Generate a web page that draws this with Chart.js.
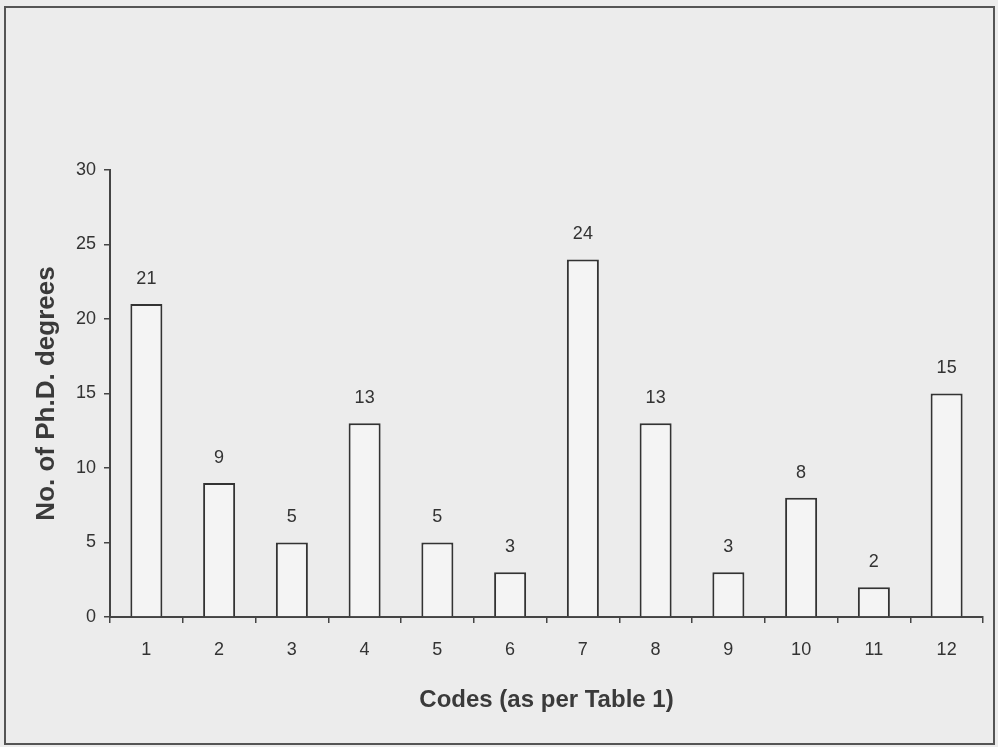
<!DOCTYPE html>
<html>
<head>
<meta charset="utf-8">
<script src="https://cdn.jsdelivr.net/npm/chart.js@4"></script>
<style>
  html, body { margin: 0; padding: 0; background: #ececec; }
  #wrap { width: 998px; height: 747px; }
</style>
</head>
<body>
<div id="wrap"><canvas id="chart"></canvas></div>
<script>
const codes = ['1', '2', '3', '4', '5', '6', '7', '8', '9', '10', '11', '12'];
const phdCounts = [21, 9, 5, 13, 5, 3, 24, 13, 3, 8, 2, 15];

const ink = '#333333';
const fontFamily = '"Liberation Sans", Arial, sans-serif';

// achtergrond + kader rond de figuur
const framePlugin = {
    id: 'frame',
    beforeDraw(chart) {
        const ctx = chart.ctx;
        ctx.save();
        ctx.fillStyle = '#ececec';
        ctx.fillRect(0, 0, chart.width, chart.height);
        ctx.strokeStyle = '#555555';
        ctx.lineWidth = 2;
        ctx.strokeRect(5, 7, 989, 737);
        ctx.restore();
    }
};

// waarde boven elke staaf
const valueLabels = {
    id: 'valueLabels',
    afterDatasetsDraw(chart) {
        const ctx = chart.ctx;
        const meta = chart.getDatasetMeta(0);
        ctx.save();
        ctx.font = '18px ' + fontFamily;
        ctx.fillStyle = ink;
        ctx.textAlign = 'center';
        ctx.textBaseline = 'middle';
        meta.data.forEach((bar, i) => {
            ctx.fillText(String(phdCounts[i]), bar.x, bar.y - 25);
        });
        ctx.restore();
    }
};

new Chart(document.getElementById('chart'), {
    type: 'bar',
    data: {
        labels: codes,
        datasets: [{
            data: phdCounts,
            backgroundColor: '#f4f4f4',
            borderColor: ink,
            borderWidth: 2,
            barPercentage: 0.44,
            categoryPercentage: 1
        }]
    },
    options: {
        responsive: true,
        maintainAspectRatio: false,
        animation: false,
        layout: { padding: { top: 170, right: 15, left: 0, bottom: 0 } },
        plugins: {
            legend: { display: false },
            tooltip: { enabled: false }
        },
        scales: {
            x: {
                afterFit: scale => { scale.height = 130; },
                grid: { drawOnChartArea: false, drawTicks: true, tickLength: 6, color: '#444', lineWidth: 1.5 },
                border: { display: true, color: '#444', width: 2 },
                ticks: { color: ink, padding: 16, font: { family: fontFamily, size: 18 } },
                title: {
                    display: true,
                    text: 'Codes (as per Table 1)',
                    color: '#3a3a3a',
                    font: { family: fontFamily, size: 24, weight: 'bold' },
                    padding: { top: 0, bottom: 32 }
                }
            },
            y: {
                min: 0,
                max: 30,
                afterFit: scale => { scale.width = 110; },
                grid: { drawOnChartArea: false, drawTicks: true, tickLength: 6, color: '#444', lineWidth: 1.5 },
                border: { display: true, color: '#444', width: 2 },
                ticks: { stepSize: 5, color: ink, padding: 8, font: { family: fontFamily, size: 18 } },
                title: {
                    display: true,
                    text: 'No. of Ph.D. degrees',
                    color: '#3a3a3a',
                    font: { family: fontFamily, size: 26, weight: 'bold' },
                    padding: { top: 31, bottom: 0 }
                }
            }
        }
    },
    plugins: [framePlugin, valueLabels]
});
</script>
</body>
</html>
